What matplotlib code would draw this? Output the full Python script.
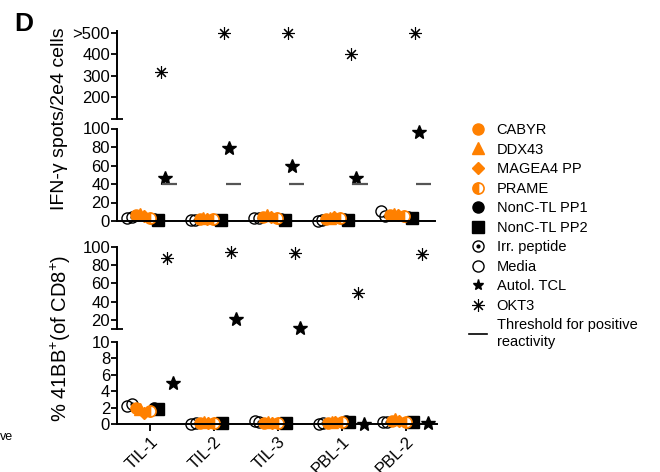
import numpy as np
import matplotlib
matplotlib.use("Agg")
import matplotlib.pyplot as plt
from matplotlib.lines import Line2D
from matplotlib.legend_handler import HandlerTuple

plt.rcParams['font.family'] = ['Liberation Sans', 'DejaVu Sans']
plt.rcParams['mathtext.fontset'] = 'custom'
plt.rcParams['mathtext.rm'] = 'Liberation Sans'

# data
samples = ["TIL-1", "TIL-2", "TIL-3", "PBL-1", "PBL-2"]

# IFN-g spots / 2e4 cells
ifn = {
    "Media":        [3, 1, 3, 0, 11],
    "Irr. peptide": [4, 1, 3, 1, 5],
    "CABYR":        [6, 2, 4, 2, 7],
    "DDX43":        [8, 3, 6, 3, 8],
    "MAGEA4 PP":    [5, 2, 4, 4, 7],
    "PRAME":        [3, 2, 3, 3, 5],
    "NonC-TL PP1":  [2, 1, 2, 2, 4],
    "NonC-TL PP2":  [1, 1, 1, 1, 3],
    "Autol. TCL":   [47, 79, 59, 46, 96],
    "OKT3":         [320, 500, 500, 400, 500],
}
threshold = [40, 40, 40, 40, 40]

# % 41BB+ of CD8+
bb = {
    "Media":        [2.2, 0.0, 0.4, 0.0, 0.3],
    "Irr. peptide": [2.5, 0.1, 0.2, 0.1, 0.3],
    "CABYR":        [2.0, 0.1, 0.1, 0.1, 0.4],
    "DDX43":        [1.8, 0.2, 0.2, 0.2, 0.6],
    "MAGEA4 PP":    [1.3, 0.1, 0.1, 0.2, 0.4],
    "PRAME":        [1.6, 0.1, 0.1, 0.3, 0.2],
    "NonC-TL PP1":  [2.0, 0.1, 0.1, 0.4, 0.2],
    "NonC-TL PP2":  [1.8, 0.1, 0.1, 0.3, 0.2],
    "Autol. TCL":   [5.0, 21, 11, 0.0, 0.1],
    "OKT3":         [88, 94, 93, 49, 92],
}

orange = "#ff8000"
styles = {
    "Media":        dict(marker='o', ms=8, mfc='none', mec='black', mew=1.0),
    "Irr. peptide": dict(marker='o', ms=8, mfc='none', mec='black', mew=1.0),
    "CABYR":        dict(marker='o', ms=8, color=orange),
    "DDX43":        dict(marker='^', ms=8, color=orange),
    "MAGEA4 PP":    dict(marker='D', ms=6.5, color=orange),
    "PRAME":        dict(marker='o', ms=8, fillstyle='left', mfc=orange, mfcalt='white',
                         mec=orange, mew=1.2),
    "NonC-TL PP1":  dict(marker='o', ms=8, color='black'),
    "NonC-TL PP2":  dict(marker='s', ms=8, color='black'),
    "Autol. TCL":   dict(marker='*', ms=10, color='black'),
    "OKT3":         dict(marker=(8, 2, 0), ms=9, color='black', mew=0.8),
}
off_top = {"Media": -0.36, "Irr. peptide": -0.29, "CABYR": -0.22, "DDX43": -0.16,
           "MAGEA4 PP": -0.10, "PRAME": 0.0, "NonC-TL PP1": 0.06, "NonC-TL PP2": 0.12,
           "Autol. TCL": 0.24, "OKT3": 0.17}
off_bot = dict(off_top)
off_bot.update({"Autol. TCL": 0.35, "OKT3": 0.26})
order = ["Media", "Irr. peptide", "CABYR", "DDX43", "MAGEA4 PP", "NonC-TL PP1",
         "NonC-TL PP2", "PRAME", "Autol. TCL", "OKT3"]

W, H = 660, 472
fig = plt.figure(figsize=(W / 100, H / 100), dpi=100)


def ax_px(l, t, r, b):
    return fig.add_axes([l / W, 1 - b / H, (r - l) / W, (b - t) / H])


ax1 = ax_px(117, 30.8, 435, 119)
ax2 = ax_px(117, 128.5, 435, 221)
ax3 = ax_px(117, 247, 437, 329)
ax4 = ax_px(117, 342, 437, 424)

pos = np.arange(len(samples))


def draw(ax_hi, ax_lo, cut, data, offs):
    for name in order:
        v = np.array(data[name], dtype=float)
        x = pos + offs[name]
        hi = v > cut
        st = styles[name]
        if hi.any():
            ax_hi.plot(x[hi], v[hi], ls='none', clip_on=False, **st)
        if (~hi).any():
            ax_lo.plot(x[~hi], v[~hi], ls='none', clip_on=False, **st)
        if name == "Irr. peptide":
            ax_hi.plot(x[hi], v[hi], ls='none', marker='o', ms=2, color='black', clip_on=False)
            ax_lo.plot(x[~hi], v[~hi], ls='none', marker='o', ms=2, color='black', clip_on=False)


draw(ax1, ax2, 100, ifn, off_top)
draw(ax3, ax4, 10, bb, off_bot)
ax2.hlines(threshold, pos + 0.19, pos + 0.43, color='#555555', lw=1.6)

for ax in (ax1, ax2, ax3, ax4):
    ax.set_xlim(-0.52, 4.49)
    for s in ('top', 'right'):
        ax.spines[s].set_visible(False)
    ax.spines['left'].set_linewidth(1.4)
    ax.spines['bottom'].set_linewidth(1.4)
    ax.tick_params(axis='y', labelsize=12, length=4, width=1.3, pad=1)
    ax.tick_params(axis='y', which='minor', direction='inout', length=8, width=1.3)
    ax.patch.set_visible(False)

for ax in (ax1, ax3):
    ax.spines['bottom'].set_visible(False)
    ax.set_xticks([])

ax1.set_ylim(100, 510)
ax1.set_yticks([200, 300, 400, 500], ['200', '300', '400', '>500'])
ax1.set_yticks([100], minor=True)
ax2.set_ylim(0, 100)
ax2.set_yticks(np.arange(0, 101, 20))
ax2.set_yticks([100], minor=True)
ax2.tick_params(axis='x', length=0, labelbottom=False)
ax2.set_xticks(pos)
ax3.set_ylim(10, 100)
ax3.set_yticks(np.arange(20, 101, 20))
ax3.set_yticks([10], minor=True)
ax4.set_ylim(0, 10)
ax4.set_yticks(np.arange(0, 11, 2))
ax4.set_yticks([10], minor=True)
ax4.set_xticks(pos)
ax4.set_xticklabels(samples, rotation=45, ha='right', rotation_mode='anchor', fontsize=12)
ax4.tick_params(axis='x', length=5, width=1.3, pad=2)

fig.text(60 / W, 1 - 119 / H, "IFN-γ spots/2e4 cells", rotation=90, ha='center', va='center', fontsize=14)
fig.text(61 / W, 1 - 338 / H, r"% 41BB$^{+}$(of CD8$^{+}$)", rotation=90, ha='center', va='center',
         fontsize=14.5)
fig.text(14 / W, 1 - 12 / H, "D", fontsize=19, fontweight='bold', ha='left', va='top')
fig.text(0, 1 - 437 / H, "ve", fontsize=9, ha='left', va='center')

# legend
handles = []
labels = []
for name in ["CABYR", "DDX43", "MAGEA4 PP", "PRAME", "NonC-TL PP1", "NonC-TL PP2",
             "Irr. peptide", "Media", "Autol. TCL", "OKT3"]:
    st = dict(styles[name])
    if name == "Autol. TCL":
        st['ms'] = 8
    h = Line2D([], [], ls='none', **st)
    if name == "Irr. peptide":
        h = (h, Line2D([], [], ls='none', marker='o', ms=2, color='black'))
    handles.append(h)
    labels.append(name)
handles.append(Line2D([], [], color='black', lw=1.2))
labels.append("Threshold for positive\nreactivity")
fig.legend(handles, labels, loc='upper left', bbox_to_anchor=(469 / W, 1 - 123 / H),
           frameon=False, fontsize=10.5, handlelength=1.2, handletextpad=0.7,
           labelspacing=0.38, borderpad=0, borderaxespad=0,
           handler_map={tuple: HandlerTuple(ndivide=1, pad=0)})

fig.savefig("out.png", dpi=100)
